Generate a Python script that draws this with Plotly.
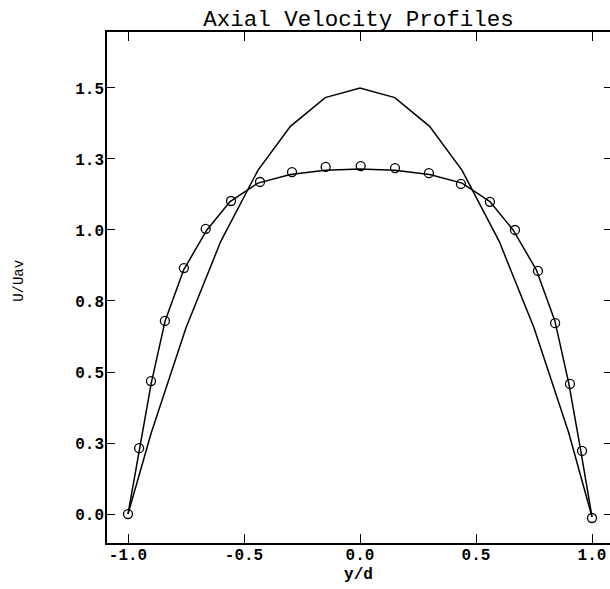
import plotly.graph_objects as go

# Measured profile (open circles)
meas_x = [-1.0, -0.952, -0.901, -0.841, -0.759, -0.665, -0.556, -0.431, -0.293, -0.148,
          0.003, 0.151, 0.297, 0.435, 0.560, 0.668, 0.767, 0.841, 0.905, 0.957, 1.0]
meas_y = [0.0, 0.232, 0.468, 0.680, 0.866, 1.004, 1.102, 1.169, 1.204, 1.222,
          1.225, 1.218, 1.200, 1.162, 1.099, 1.000, 0.856, 0.672, 0.458, 0.222, -0.014]

# Computed flat profile (solid line through circles)
flat_x = [-1.0, -0.95, -0.90, -0.84, -0.76, -0.66, -0.56, -0.44, -0.30, -0.15,
          0.0, 0.15, 0.30, 0.44, 0.56, 0.66, 0.76, 0.84, 0.90, 0.95, 1.0]
flat_y = [0.0, 0.23, 0.46, 0.68, 0.86, 1.0, 1.10, 1.165, 1.195, 1.21,
          1.215, 1.21, 1.195, 1.165, 1.10, 1.0, 0.86, 0.68, 0.46, 0.23, -0.01]

# Parabolic (laminar) profile
para_x = [-1.0, -0.90, -0.75, -0.60, -0.44, -0.30, -0.15, 0.0, 0.15, 0.30, 0.44, 0.60, 0.75, 0.90, 1.0]
para_y = [0.0, 0.285, 0.656, 0.96, 1.21, 1.365, 1.466, 1.5, 1.466, 1.365, 1.21, 0.96, 0.656, 0.285, -0.01]

x_ticks = [-1.0, -0.5, 0.0, 0.5, 1.0]
x_tick_labels = ["-1.0", "-0.5", "0.0", "0.5", "1.0"]
y_ticks = [0.0, 0.25, 0.5, 0.75, 1.0, 1.25, 1.5]
y_tick_labels = ["0.0", "0.3", "0.5", "0.8", "1.0", "1.3", "1.5"]

FONT = "Liberation Mono, Courier New, monospace"

fig = go.Figure()
fig.add_trace(go.Scatter(x=para_x, y=para_y, mode="lines",
                         line=dict(color="black", width=1.5), showlegend=False))
fig.add_trace(go.Scatter(x=flat_x, y=flat_y, mode="lines",
                         line=dict(color="black", width=1.5), showlegend=False))
fig.add_trace(go.Scatter(x=meas_x, y=meas_y, mode="markers",
                         marker=dict(symbol="circle-open", size=9, color="black",
                                     line=dict(color="black", width=1.3)),
                         showlegend=False))
# invisible trace on a right-hand axis to draw the right-side ticks
fig.add_trace(go.Scatter(x=[meas_x[0]], y=[meas_y[0]], yaxis="y2", mode="markers",
                         marker=dict(opacity=0), showlegend=False, hoverinfo="skip"))

fig.update_layout(
    width=610, height=589,
    margin=dict(l=107, r=0, t=32, b=46),
    paper_bgcolor="white", plot_bgcolor="white",
    font=dict(family=FONT, color="black"),
    title=dict(text="Axial Velocity Profiles", x=0.5, xref="paper", xanchor="center",
               y=1.0, yref="paper", yanchor="bottom", pad=dict(b=6),
               font=dict(family=FONT, size=22.5, color="black")),
    xaxis=dict(range=[-1.0905, 1.0776], tickvals=x_ticks, ticktext=x_tick_labels,
               ticks="inside", ticklen=9, tickwidth=1.2, tickcolor="black",
               showline=True, linecolor="black", linewidth=1.5, mirror="ticks",
               showgrid=False, zeroline=False, ticklabelstandoff=-4,
               tickfont=dict(family=FONT, size=16, weight="bold", color="black"),
               title=dict(text="y/d", standoff=4,
                          font=dict(family=FONT, size=16, weight="bold", color="black"))),
    yaxis=dict(range=[-0.102, 1.697], tickvals=y_ticks, ticktext=y_tick_labels,
               ticks="inside", ticklen=8, tickwidth=1.2, tickcolor="black",
               showline=True, linecolor="black", linewidth=1.5,
               showgrid=False, zeroline=False, ticklabelstandoff=-2,
               tickfont=dict(family=FONT, size=16, weight="bold", color="black")),
    yaxis2=dict(range=[-0.102, 1.697], overlaying="y", side="right", tickvals=y_ticks,
                showticklabels=False, ticks="inside", ticklen=6, tickwidth=1.2, tickcolor="black",
                showline=False, showgrid=False, zeroline=False),
    annotations=[dict(text="U/Uav", xref="paper", yref="paper", x=-0.175, y=0.513,
                      xanchor="center", yanchor="middle", textangle=-90, showarrow=False,
                      font=dict(family=FONT, size=14, color="black"))],
)

fig.write_html("out.html")
